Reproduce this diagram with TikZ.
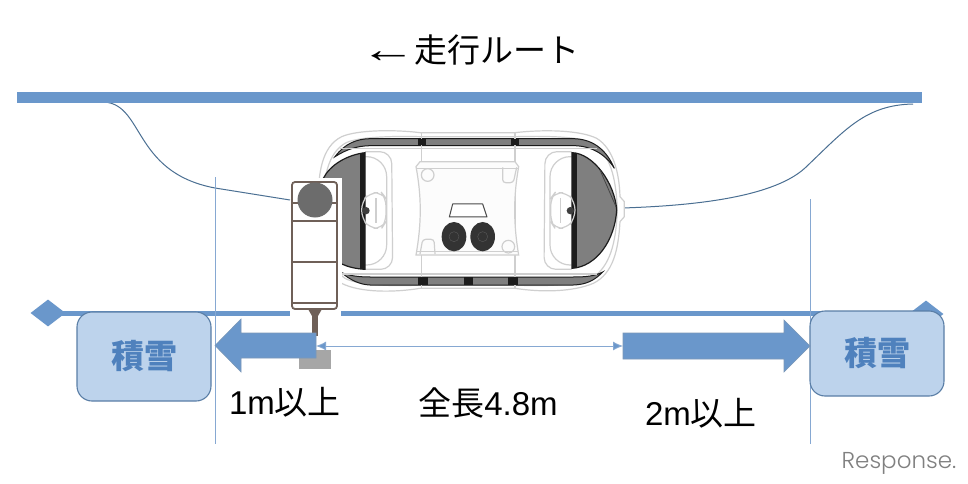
\documentclass[tikz,border=0pt]{standalone}
\usepackage{fontspec}
\usepackage{graphicx}
\setmainfont{Liberation Sans}
\newfontfamily\cjk{Noto Sans CJK JP}
\newfontfamily\wmfont{Poppins Light}
\usetikzlibrary{arrows.meta,shapes.geometric,shapes.arrows}
\definecolor{barblue}{HTML}{6A97CB}
\definecolor{thinblue}{HTML}{86A8D2}
\definecolor{boxfill}{HTML}{BDD3EC}
\definecolor{boxedge}{HTML}{5A7EA6}
\definecolor{snowtxt}{HTML}{4F81BD}
\definecolor{curveblue}{HTML}{4A6F92}
\definecolor{person}{HTML}{6F6058}
\definecolor{carline}{HTML}{CFCFCF}
\definecolor{glass}{HTML}{7F7F7F}
\definecolor{darkbar}{HTML}{1C1C1C}
\tikzset{
  snowbox/.style={draw=boxedge,line width=1.1pt,fill=boxfill,rounded corners=15pt,minimum width=134pt,inner sep=0pt,font=\fontsize{33}{38}\selectfont\cjk\bfseries,text=snowtxt},
  lbl/.style={inner sep=0pt,font=\fontsize{33}{38}\selectfont,text=black},
  guide/.style={draw=thinblue,line width=1pt},
  bluearrow/.style={draw=boxedge!80,line width=.6pt,fill=barblue},
  bodyline/.style={draw=carline,line width=1.2pt},
  perline/.style={draw=person,line width=1.6pt},
  wincurve/.style={draw=curveblue,line width=1pt}
}
\begin{document}
\begin{tikzpicture}[x=1pt,y=-1pt]
\useasboundingbox (0,0) rectangle (968,484);
\fill[white] (0,0) rectangle (968,484);
% title
\node[lbl,anchor=center] (title) at (470,50) {\scalebox{1.7}[1.15]{←}\hspace{-2pt}{\cjk 走行ルート}};
% curves behind the vehicle
\coordinate (cl0) at (100,102); \coordinate (cl1) at (290,200);
\coordinate (cr0) at (913,104); \coordinate (cr1) at (623,208);
\draw[wincurve] (cl0) .. controls (145,100) and (130,172) .. (215,188) -- (cl1);
\draw[wincurve] (cr0) .. controls (865,105) and (845,130) .. (805,168) .. controls (770,200) and (680,206) .. (cr1);
% top bar
\fill[barblue] (17,92) rectangle (922,103);
% lower line and diamonds
\node[diamond,fill=barblue,minimum width=35pt,minimum height=27pt,inner sep=0pt] (dl) at (48,313) {};
\node[diamond,fill=barblue,minimum width=35pt,minimum height=27pt,inner sep=0pt] (dr) at (926,314) {};
\fill[barblue] (60,310.5) rectangle (290,315.5);
\fill[barblue] (341,310.5) rectangle (915,315.5);
% guides
\coordinate (g1a) at (215,177); \coordinate (g1b) at (215,444);
\coordinate (g2a) at (810,199); \coordinate (g2b) at (810,444);
\draw[guide] (g2a) -- (g2b);
% vehicle
\begin{scope}[shift={(280,110)},scale=1/3]
  \draw[bodyline,fill=white] (115,300) .. controls (112,190) and (125,110) .. (185,80) .. controls (230,60) and (340,58) .. (420,68) -- (705,68) .. controls (790,58) and (900,60) .. (950,85) .. controls (1000,115) and (1018,190) .. (1020,260) -- (1033,275) -- (1033,320) -- (1020,335) .. controls (1015,420) and (1000,490) .. (940,520) .. controls (880,545) and (790,548) .. (705,535) -- (420,535) .. controls (340,548) and (240,548) .. (185,520) .. controls (125,480) and (115,400) .. (115,300) -- cycle;
  \draw[bodyline] (130,300) .. controls (128,200) and (145,130) .. (195,100) .. controls (230,80) and (340,78) .. (420,80) -- (705,80) .. controls (790,78) and (900,78) .. (935,100) .. controls (990,130) and (1008,200) .. (1012,300) .. controls (1008,400) and (990,470) .. (935,505) .. controls (900,525) and (790,530) .. (705,525) -- (420,525) .. controls (340,530) and (230,525) .. (195,505) .. controls (145,470) and (128,400) .. (130,300) -- cycle;
  % roof strips
  \fill[glass,draw=darkbar,line width=1pt] (165,140) .. controls (195,100) and (230,87) .. (270,86) -- (880,86) .. controls (930,87) and (975,110) .. (1003,175) .. controls (975,130) and (930,107) .. (880,107) -- (270,107) .. controls (230,108) and (200,118) .. (165,140) -- cycle;
  \fill[glass,draw=darkbar,line width=1pt] (185,488) .. controls (210,510) and (240,524) .. (270,525) -- (880,525) .. controls (920,524) and (945,510) .. (968,486) .. controls (945,498) and (920,501) .. (880,501) -- (270,501) .. controls (240,501) and (210,498) .. (185,488) -- cycle;
  \foreach \a/\b/\c/\d in {413/87/437/106,693/87/717/106,415/500/445/526,552/500/578/526,685/500/715/526}
    \fill[darkbar] (\a,\b) rectangle (\c,\d);
  % centre frame lines
  \draw[bodyline] (425,68) -- (425,87) (425,106) -- (425,500) (425,526) -- (425,535) (705,68) -- (705,87) (705,106) -- (705,500) (705,526) -- (705,535);
  \draw[bodyline] (180,115) -- (950,115);
  \draw[bodyline] (180,492) -- (950,492);
  % seat bays
  \draw[bodyline,rounded corners=12pt] (255,125) -- (335,125) -- (338,478) -- (255,478);
  \draw[bodyline,rounded corners=20pt] (255,140) -- (320,140) -- (320,465) -- (255,465);
  \draw[bodyline,rounded corners=12pt] (875,125) -- (795,125) -- (792,478) -- (875,478);
  \draw[bodyline,rounded corners=20pt] (875,140) -- (810,140) -- (810,465) -- (875,465);
  % centre panel
  \draw[bodyline,fill=white!99!black] (420,155) -- (705,155) -- (716,170) .. controls (700,260) and (700,340) .. (716,435) -- (408,435) .. controls (425,340) and (425,260) .. (408,170) -- cycle;
  \draw[bodyline] (412,175) -- (714,175) (410,425) -- (714,425);
  \draw[bodyline] (443,195) circle[radius=19];
  \draw[bodyline] (685,410) circle[radius=19];
  \draw[bodyline,rounded corners=3pt] (668,172) -- (668,218) -- (700,218) -- (710,172);
  \draw[bodyline,rounded corners=3pt] (420,432) -- (428,388) -- (462,388) -- (465,432);
  % windscreens
  \fill[glass,draw=darkbar,line width=1.2pt] (255,128) .. controls (200,135) and (150,165) .. (130,205) -- (130,420) .. controls (160,455) and (200,475) .. (255,478) -- cycle;
  \fill[darkbar] (240,128) rectangle (256,478);
  \fill[glass,draw=darkbar,line width=1.2pt] (876,128) .. controls (940,130) and (1005,220) .. (1010,300) .. controls (1005,390) and (950,470) .. (876,475) -- cycle;
  \fill[darkbar] (875,128) rectangle (891,475);
  \draw[darkbar!60!glass,line width=.8pt] (960,180) -- (1008,290);
  % mirrors
  \draw[bodyline,rounded corners=8pt] (245,275) -- (270,248) -- (305,248) -- (318,265) -- (318,335) -- (305,355) -- (270,355) -- (245,325) -- cycle;
  \draw[bodyline,rounded corners=8pt] (885,275) -- (860,248) -- (825,248) -- (812,265) -- (812,335) -- (825,355) -- (860,355) -- (885,325) -- cycle;
  \draw[bodyline] (288,265) -- (288,340) (842,265) -- (842,340);
  \fill[darkbar!85!white] (258,302) circle[radius=11];
  \fill[darkbar!85!white] (871,302) circle[radius=11];
  % seats
  \draw[darkbar!80!white,line width=1pt,join=round,fill=white] (518,282) -- (608,282) -- (621,321) -- (508,321) -- cycle;
  \fill[darkbar!90!white] (522,380) ellipse[x radius=37,y radius=44];
  \fill[darkbar!90!white] (608,380) ellipse[x radius=37,y radius=44];
  \draw[gray!70!black,line width=.4pt] (522,380) circle[radius=15] (608,380) circle[radius=15];
  % white patch behind the person
  \fill[white] (35,205) rectangle (185,600);
\end{scope}
% person and pole
\node[draw=person,line width=1.8pt,rounded corners=3pt,minimum width=45pt,minimum height=127pt,inner sep=0pt] (cart) at (314.5,245.5) {};
\draw[perline] (cart.west |- 0,203) -- (cart.east |- 0,203);
\draw[perline,line width=2.5pt] (cart.west |- 0,221) -- (cart.east |- 0,221);
\draw[perline] (cart.west |- 0,262) -- (cart.east |- 0,262);
\draw[perline,line width=2.2pt] (cart.west |- 0,303) -- (cart.east |- 0,303);
\fill[glass!85!black] (315,200) circle[radius=17.5];
\fill[person] (312,309) rectangle (318,336);
\fill[person] (308,309) -- (322,309) -- (318,316) -- (312,316) -- cycle;
\fill[black!35] (299,350) rectangle (331,369);
% snow boxes
\node[snowbox,minimum height=89pt] (snowl) at (144,356.5) {積雪};
\node[snowbox,minimum height=85pt] (snowr) at (877,353.5) {積雪};
\draw[guide] (g1a) -- (g1b);
% dimension
\coordinate (da) at (316,346); \coordinate (db) at (623,346);
\draw[draw=thinblue,line width=.9pt,{Latex[length=10pt,width=9pt,fill=barblue]}-{Latex[length=10pt,width=9pt,fill=barblue]}] (da) -- (db);
% block arrows
\draw[bluearrow] (316,333) -- (241,333) -- (241,319) -- (215,345.5) -- (241,372) -- (241,358) -- (316,358) -- cycle;
\draw[bluearrow] (623,333) -- (784,333) -- (784,320) -- (810,346) -- (784,372) -- (784,359) -- (623,359) -- cycle;
% labels
\node[lbl,anchor=center] (l1) at (285,402) {1m{\cjk 以上}};
\node[lbl,anchor=center] (l2) at (488,403) {{\cjk 全長}4.8m};
\node[lbl,anchor=center] (l3) at (701,413) {2m{\cjk 以上}};
% watermark
\node[inner sep=0pt,anchor=center,text=black!50,font=\fontsize{23}{28}\selectfont\wmfont] (wm) at (899,463) {Response.};
\end{tikzpicture}
\end{document}
